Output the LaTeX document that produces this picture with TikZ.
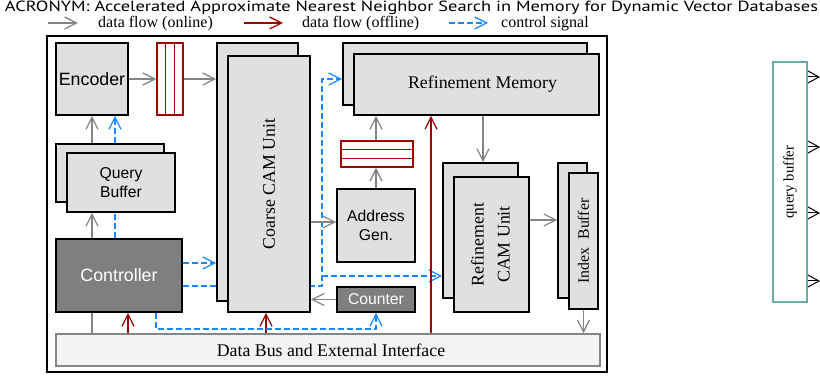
\documentclass[tikz,border=0pt]{standalone}
\usepackage{fontspec}
\usepackage{graphicx}
\setmainfont{Liberation Serif}
\newfontfamily\sansfam{Liberation Sans}
\newfontfamily\headfam{PT Sans}
\usetikzlibrary{arrows.meta,calc}
\definecolor{boxfill}{HTML}{E0E0E0}
\definecolor{darkfill}{HTML}{7F7F7F}
\definecolor{busfill}{HTML}{F3F3F3}
\definecolor{flowgray}{HTML}{858585}
\definecolor{offred}{HTML}{A00000}
\definecolor{ctlblue}{HTML}{1A88FF}
\definecolor{qbteal}{HTML}{6AB0A2}
\pgfdeclarelayer{back}
\pgfsetlayers{back,main}
\begin{document}
\begin{tikzpicture}[x=1pt,y=-1pt,
  box/.style={draw=black, line width=1.6pt, fill=boxfill, inner sep=0pt},
  darkbox/.style={box, fill=darkfill, text=white},
  rbuf/.style={draw=offred, line width=1.4pt, fill=white, inner sep=0pt},
  rdiv/.style={draw=offred, line width=1.4pt},
  sanslbl/.style={font=\sansfam\fontsize{15.7}{18.4}\selectfont, align=center},
  sansbig/.style={font=\sansfam\fontsize{17.8}{20}\selectfont, align=center},
  seriflbl/.style={font=\fontsize{17.8}{26}\selectfont},
  legendtxt/.style={font=\fontsize{16}{18}\selectfont, inner sep=0pt},
  headtip/.style={-{Straight Barb[length=12pt,width=12pt]}},
  flow/.style={draw=flowgray, line width=1.3pt, headtip},
  flowline/.style={draw=flowgray, line width=1.3pt},
  offl/.style={draw=offred, line width=1.3pt, headtip},
  ctlline/.style={draw=ctlblue, line width=1.3pt, dash pattern=on 6pt off 3pt},
  ctl/.style={ctlline, headtip},
  outflow/.style={draw=black, line width=1pt, -{Straight Barb[length=11pt,width=12pt]}}
]
\useasboundingbox (0,0) rectangle (820,379);

% heading
\node[anchor=base, font=\headfam\fontsize{16}{18}\selectfont, inner sep=0pt] (title) at (411.5,11.5)
  {\resizebox{813pt}{10.5pt}{ACRONYM: Accelerated Approximate Nearest Neighbor Search in Memory for Dynamic Vector Databases}};

% legend
\coordinate (lga) at (48,23);  \coordinate (lgb) at (78,23);
\coordinate (lra) at (244,23); \coordinate (lrb) at (283,23);
\coordinate (lba) at (449,23); \coordinate (lbb) at (488,23);
\draw[flow] (lga) -- (lgb);
\draw[offl] (lra) -- (lrb);
\draw[ctl] (lba) -- (lbb);
\node[legendtxt, anchor=west] (lgt) at (98,24) {data flow (online)};
\node[legendtxt, anchor=west] (lrt) at (302,24) {data flow (offline)};
\node[legendtxt, anchor=west] (lbt) at (501,24) {control signal};

% enclosing frame
\node[draw=black, line width=1.5pt, minimum width=560pt, minimum height=336pt, inner sep=0pt] (frame) at (327,204) {};

% blocks
\node[box, sansbig, minimum width=72pt, minimum height=72pt] (enc) at (92,79) {Encoder};
\node[rbuf, minimum width=26pt, minimum height=72pt] (vbuf) at (170,79) {};
\draw[rdiv] ($(vbuf.north west)!1/3!(vbuf.north east)$) -- ($(vbuf.south west)!1/3!(vbuf.south east)$);
\draw[rdiv] ($(vbuf.north west)!2/3!(vbuf.north east)$) -- ($(vbuf.south west)!2/3!(vbuf.south east)$);

\node[box, minimum width=81pt, minimum height=258pt] (cback) at (257.5,172) {};
\node[box, seriflbl, minimum width=82pt, minimum height=256pt] (cfront) at (269,184) {\rotatebox{90}{Coarse CAM Unit}};

\node[box, minimum width=244pt, minimum height=62pt] (rmback) at (465,74) {};
\node[box, seriflbl, minimum width=245pt, minimum height=61pt] (rmfront) at (476.5,84.5) {\hspace{12pt}Refinement Memory};

\node[rbuf, minimum width=72pt, minimum height=26pt] (hbuf) at (377,154) {};
\draw[rdiv] ($(hbuf.north west)!1/3!(hbuf.south west)$) -- ($(hbuf.north east)!1/3!(hbuf.south east)$);
\draw[rdiv] ($(hbuf.north west)!2/3!(hbuf.south west)$) -- ($(hbuf.north east)!2/3!(hbuf.south east)$);

\node[box, sanslbl, minimum width=78pt, minimum height=73pt] (addr) at (376,225.5) {Address\\Gen.};
\node[darkbox, sanslbl, minimum width=78pt, minimum height=25pt] (counter) at (376,299.5) {Counter};

\node[box, minimum width=75pt, minimum height=135pt] (rcback) at (480.5,230.5) {};
\node[box, font=\fontsize{17.8}{26}\selectfont, minimum width=75pt, minimum height=135pt] (rcfront) at (491.5,244.5)
  {\rotatebox{90}{\begin{tabular}{@{}c@{}}Refinement\\CAM Unit\end{tabular}}};

\node[box, minimum width=29pt, minimum height=135pt] (ibback) at (572.5,230.5) {};
\node[box, font=\fontsize{15.8}{18}\selectfont, minimum width=29pt, minimum height=136pt] (ibfront) at (583.5,241) {\rotatebox{90}{Index~ Buffer}};

\node[box, minimum width=108pt, minimum height=58pt] (qback) at (110,173) {};
\node[box, sanslbl, minimum width=108pt, minimum height=59pt] (qfront) at (121,182.5) {Query\\Buffer};

\node[darkbox, sansbig, minimum width=126pt, minimum height=73pt] (ctrl) at (119,275.5) {Controller};

\node[draw=flowgray, line width=1.5pt, fill=busfill, inner sep=0pt, seriflbl, minimum width=544pt, minimum height=32pt] (bus) at (328,350) {\hspace{6pt}Data Bus and External Interface};

% separate query buffer with its outputs
\node[draw=qbteal, line width=1.2pt, fill=white, inner sep=0pt, font=\fontsize{14.7}{17}\selectfont, minimum width=34pt, minimum height=240pt] (qb) at (790,182) {\rotatebox{90}{query buffer}};

% helper coordinates for connector rails
\coordinate (xQ) at (115,0);
\coordinate (xC) at (128,0);
\coordinate (xB) at (156,0);
\coordinate (xCC) at (266,0);
\coordinate (xV) at (322,0);
\coordinate (xR) at (431,0);
\coordinate (xRC) at (483,0);
\coordinate (xE) at (820,0);
\coordinate (yIB) at (0,220);
\coordinate (yAG) at (0,222);
\coordinate (yT) at (0,263);
\coordinate (yM) at (0,276);
\coordinate (yL) at (0,286);
\coordinate (yB) at (0,329);
\coordinate (yo1) at (0,77);
\coordinate (yo2) at (0,147);
\coordinate (yo3) at (0,213);
\coordinate (yo4) at (0,281);

% control rail that runs behind the coarse CAM unit
\begin{pgfonlayer}{back}
\draw[ctl] (ctrl.east |- yL) -- (xV |- yL) -- (xV |- enc) -- (rmback.west |- enc);
\draw[ctl] (xV |- yM) -- (rcback.west |- yM);
\end{pgfonlayer}

% online data flow
\draw[flow] (enc.east) -- (vbuf.west);
\draw[flow] (vbuf.east) -- (vbuf.east -| cback.west);
\draw[flow] (qback.north -| enc) -- (enc.south);
\draw[flow] (ctrl.north -| enc) -- (qfront.south -| enc);
\draw[flowline] (bus.north -| enc) -- (ctrl.south -| enc);
\draw[flow] (cfront.east |- yAG) -- (addr.west |- yAG);
\draw[flow] (counter.west) -- (counter.west -| cfront.east);
\draw[flow] (addr.north) -- (hbuf.south -| addr.north);
\draw[flow] (hbuf.north -| addr) -- (rmfront.south -| addr);
\draw[flow] (rmfront.south -| xRC) -- (rcback.north -| xRC);
\draw[flow] (rcfront.east |- yIB) -- (ibback.west |- yIB);
\draw[flow] (ibfront.south) -- (bus.north -| ibfront.south);

% offline data flow
\draw[offl] (bus.north -| xC) -- (ctrl.south -| xC);
\draw[offl] (bus.north -| xCC) -- (cfront.south -| xCC);
\draw[offl] (bus.north -| xR) -- (rmfront.south -| xR);

% control signals
\draw[ctlline] (ctrl.north -| xQ) -- (qfront.south -| xQ);
\draw[ctl] (qback.north -| xQ) -- (enc.south -| xQ);
\draw[ctl] (ctrl.east |- yT) -- (cback.west |- yT);
\draw[ctl] (ctrl.south -| xB) -- (xB |- yB) -- (counter.south |- yB) -- (counter.south);

% query buffer outputs
\draw[outflow] (qb.east |- yo1) -- (xE |- yo1);
\draw[outflow] (qb.east |- yo2) -- (xE |- yo2);
\draw[outflow] (qb.east |- yo3) -- (xE |- yo3);
\draw[outflow] (qb.east |- yo4) -- (xE |- yo4);
\end{tikzpicture}
\end{document}
